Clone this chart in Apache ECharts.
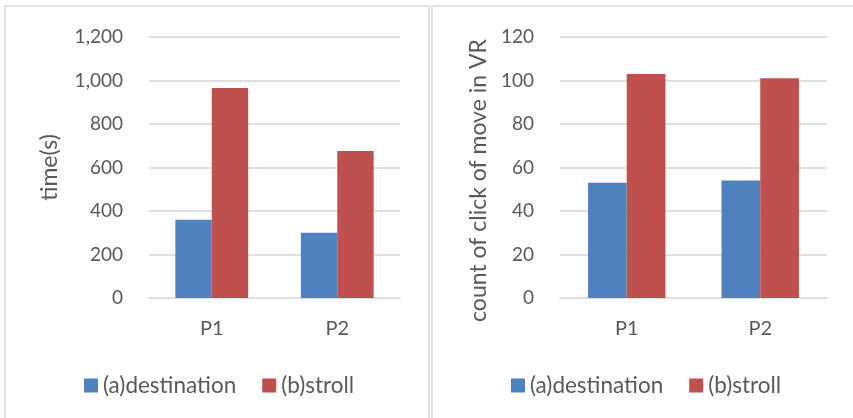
<!DOCTYPE html>
<html><head><meta charset="utf-8">
<script src="https://cdn.jsdelivr.net/npm/echarts@6/dist/echarts.min.js"></script>
<style>html,body{margin:0;padding:0;background:#fff}#c{width:853px;height:418px}</style>
</head><body><div id="c"></div>
<script>
const categories = ['P1', 'P2'];
const seriesNames = ['(a)destination', '(b)stroll'];
const timeDestination = [360, 300];
const timeStroll = [965, 676];
const clickDestination = [53, 54];
const clickStroll = [103, 101];
const timeTicks = { min: 0, max: 1200, interval: 200 };
const clickTicks = { min: 0, max: 120, interval: 20 };
const yNames = ['time(s)', 'count of click of move in VR'];

const FONT = 'Lato, "Open Sans", sans-serif';
const TXT = '#595959';
const BLUE = '#4f81bd', RED = '#c0504d';

const chart = echarts.init(document.getElementById('c'), null, { renderer: 'canvas' });

function yAxis(idx, t, name, nameGap, pad) {
  return {
    type: 'value', gridIndex: idx, min: t.min, max: t.max, interval: t.interval,
    name: name, nameLocation: 'middle', nameGap: nameGap,
    nameTextStyle: { color: TXT, fontSize: 23, fontFamily: FONT, padding: pad },
    axisLine: { show: false }, axisTick: { show: false },
    axisLabel: { color: TXT, fontSize: 19, fontFamily: FONT, margin: 26,
      formatter: v => v.toLocaleString('en-US') },
    splitLine: { lineStyle: { color: '#e0e0e0', width: 2 } }
  };
}
function xAxis(idx) {
  return {
    type: 'category', gridIndex: idx, data: categories,
    axisLine: { lineStyle: { color: '#e0e0e0', width: 2 } }, axisTick: { show: false },
    axisLabel: { color: TXT, fontSize: 20, fontFamily: FONT, margin: 21 }
  };
}
function bar(name, data, color, idx) {
  return { type: 'bar', name: name, data: data, xAxisIndex: idx, yAxisIndex: idx,
    barGap: '0%', barCategoryGap: '42%', itemStyle: { color: color } };
}

chart.setOption({
  animation: false,
  backgroundColor: '#fff',
  graphic: [
    { type: 'rect', shape: { x: 5, y: 6, width: 424, height: 420 }, style: { fill: 'none', stroke: '#e2e2e2', lineWidth: 2 } },
    { type: 'rect', shape: { x: 432, y: 6, width: 430, height: 420 }, style: { fill: 'none', stroke: '#e2e2e2', lineWidth: 2 } }
  ],
  grid: [
    { left: 149, top: 37, width: 251, height: 261 },
    { left: 560, top: 37, width: 267, height: 261 }
  ],
  xAxis: [xAxis(0), xAxis(1)],
  yAxis: [yAxis(0, timeTicks, yNames[0], 88, 0), yAxis(1, clickTicks, yNames[1], 70, [0, 26, 0, 0])],
  legend: [
    { left: 79, top: 369, itemWidth: 14, itemHeight: 14, itemGap: 26, icon: 'rect',
      textStyle: { color: TXT, fontSize: 22.5, fontFamily: FONT }, data: seriesNames },
    { left: 506, top: 369, itemWidth: 14, itemHeight: 14, itemGap: 26, icon: 'rect',
      textStyle: { color: TXT, fontSize: 22.5, fontFamily: FONT }, data: seriesNames }
  ],
  series: [
    bar(seriesNames[0], timeDestination, BLUE, 0),
    bar(seriesNames[1], timeStroll, RED, 0),
    bar(seriesNames[0], clickDestination, BLUE, 1),
    bar(seriesNames[1], clickStroll, RED, 1)
  ]
});
</script></body></html>
